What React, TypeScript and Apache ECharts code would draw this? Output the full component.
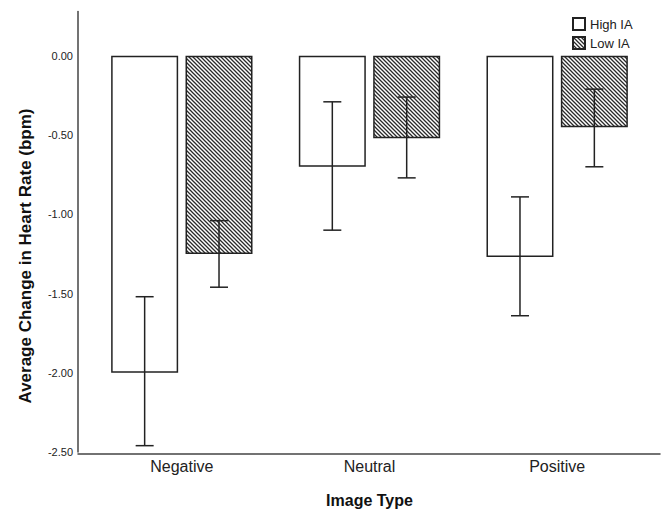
import React, { useEffect, useRef } from "react";
import * as echarts from "echarts";

const categories = ["Negative", "Neutral", "Positive"];
const seriesNames = ["High IA", "Low IA"];
const highMean = [-2.0, -0.7, -1.27];
const highLower = [-2.46, -1.1, -1.64];
const highUpper = [-1.52, -0.29, -0.89];
const lowMean = [-1.25, -0.52, -0.45];
const lowLower = [-1.46, -0.77, -0.7];
const lowUpper = [-1.04, -0.26, -0.21];

const FONT = "'Liberation Sans', Arial, Helvetica, sans-serif";
const BAR_W = 0.357; // fraction of band
const BAR_GAP = 0.11; // fraction of bar width

function makeHatch() {
  const s = 4;
  const c = document.createElement("canvas");
  c.width = s;
  c.height = s;
  const ctx = c.getContext("2d")!;
  ctx.fillStyle = "#ffffff";
  ctx.fillRect(0, 0, s, s);
  ctx.strokeStyle = "#2a2a2a";
  ctx.lineWidth = 1.3;
  ctx.beginPath();
  ctx.moveTo(-1, -1);
  ctx.lineTo(s + 1, s + 1);
  ctx.moveTo(-1, s - 1);
  ctx.lineTo(1, s + 1);
  ctx.moveTo(s - 1, -1);
  ctx.lineTo(s + 1, 1);
  ctx.stroke();
  return c;
}

export default function App() {
  const ref = useRef<HTMLDivElement>(null);
  useEffect(() => {
    document.body.style.margin = "0";
    if (!ref.current) return;
    const chart = echarts.init(ref.current, undefined, { renderer: "svg" });
    const hatch = makeHatch();

    const errSeries = (lower: number[], upper: number[], side: number) => ({
      type: "custom",
      xAxisIndex: 0,
      yAxisIndex: 0,
      z: 5,
      silent: true,
      data: categories.map((_, i) => [i, lower[i], upper[i]]),
      renderItem: (params: any, api: any) => {
        const idx = api.value(0);
        const lo = api.value(1);
        const hi = api.value(2);
        const band = api.size([1, 0])[0];
        const off = (side * band * (BAR_W + BAR_W * BAR_GAP)) / 2;
        const cx = api.coord([idx, 0])[0] + off;
        const yTop = api.coord([idx, hi])[1];
        const yBot = api.coord([idx, lo])[1];
        const cap = 9;
        const st = { stroke: "#222", lineWidth: 1.5 };
        return {
          type: "group",
          children: [
            { type: "line", shape: { x1: cx, y1: yTop, x2: cx, y2: yBot }, style: st },
            { type: "line", shape: { x1: cx - cap, y1: yTop, x2: cx + cap, y2: yTop }, style: st },
            { type: "line", shape: { x1: cx - cap, y1: yBot, x2: cx + cap, y2: yBot }, style: st },
          ],
        };
      },
    });

    chart.setOption({
      animation: false,
      textStyle: { fontFamily: FONT },
      grid: [
        { left: 88, right: 16, top: 11.5, bottom: 59 },
        { left: 78, right: 7, top: 11.5, bottom: 59 },
      ],
      legend: {
        data: seriesNames,
        orient: "vertical",
        left: 567,
        top: 12,
        itemWidth: 12,
        itemHeight: 12,
        itemGap: 5,
        icon: "rect",
        textStyle: { fontSize: 13, color: "#222", fontFamily: FONT },
      },
      xAxis: [
        {
          type: "category",
          gridIndex: 0,
          data: categories,
          axisLine: { show: false },
          axisTick: { show: false },
          axisLabel: { fontSize: 16, color: "#222", margin: 6, fontFamily: FONT },
          name: "Image Type",
          nameLocation: "middle",
          nameGap: 40,
          nameTextStyle: { fontSize: 16, fontWeight: "bold", color: "#111", fontFamily: FONT },
        },
        {
          type: "value",
          gridIndex: 1,
          min: 0,
          max: 1,
          axisLine: { show: true, onZero: false, lineStyle: { color: "#444", width: 1.5 } },
          axisTick: { show: false },
          axisLabel: { show: false },
          splitLine: { show: false },
        },
      ],
      yAxis: [
        {
          type: "value",
          gridIndex: 0,
          min: -2.5,
          max: 0.28,
          interval: 0.5,
          offset: 10,
          axisLine: { show: true, lineStyle: { color: "#444", width: 1.5 } },
          axisTick: { show: false },
          splitLine: { show: false },
          axisLabel: {
            fontSize: 11,
            color: "#222",
            margin: 5,
            fontFamily: FONT,
            formatter: (v: number) => (v > 0.001 ? "" : v.toFixed(2)),
          },
        },
        { type: "value", gridIndex: 1, min: 0, max: 1, show: false },
      ],
      graphic: [
        {
          type: "text",
          x: 25,
          y: 256,
          rotation: Math.PI / 2,
          style: {
            text: "Average Change in Heart Rate (bpm)",
            fontSize: 17,
            fontWeight: "bold",
            fill: "#111",
            fontFamily: FONT,
            align: "center",
            verticalAlign: "middle",
          },
        },
      ],
      series: [
        {
          name: seriesNames[0],
          type: "bar",
          data: highMean,
          barWidth: BAR_W * 100 + "%",
          barGap: BAR_GAP * 100 + "%",
          itemStyle: { color: "#ffffff", borderColor: "#222", borderWidth: 1.5 },
        },
        {
          name: seriesNames[1],
          type: "bar",
          data: lowMean,
          barWidth: BAR_W * 100 + "%",
          barGap: BAR_GAP * 100 + "%",
          itemStyle: {
            color: { image: hatch, repeat: "repeat", imageWidth: 4, imageHeight: 4 },
            borderColor: "#222",
            borderWidth: 1.5,
          },
        },
        errSeries(highLower, highUpper, -1),
        errSeries(lowLower, lowUpper, 1),
      ],
    });
    return () => chart.dispose();
  }, []);
  return <div ref={ref} style={{ width: 667, height: 513 }} />;
}
